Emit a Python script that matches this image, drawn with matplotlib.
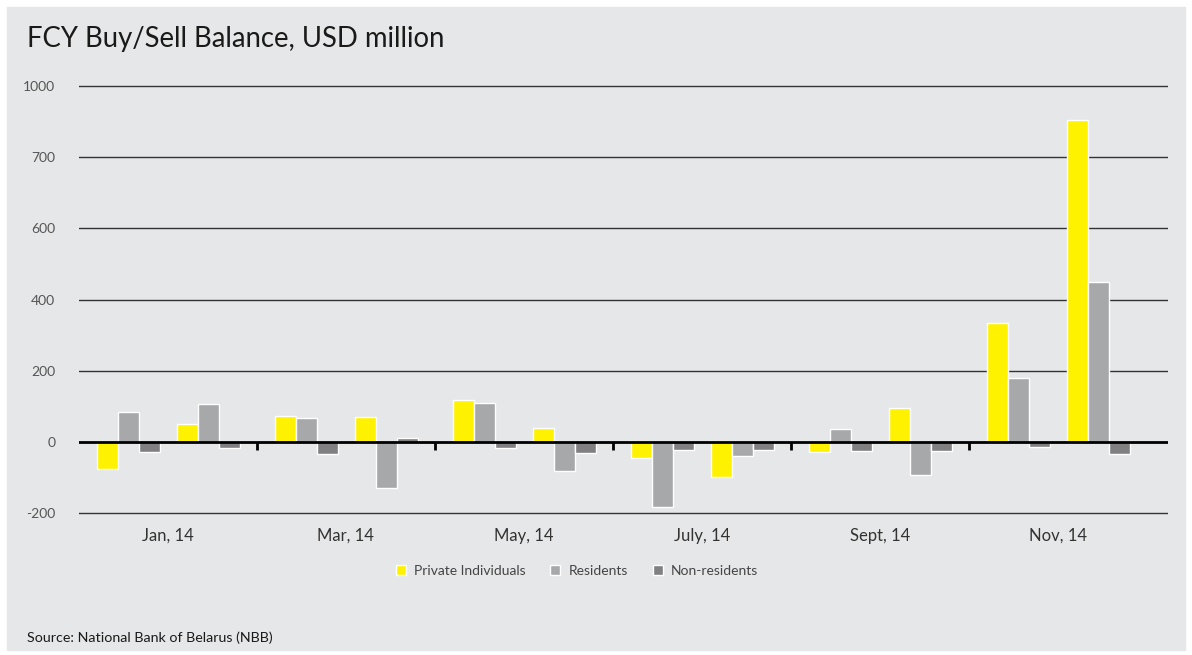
import numpy as np
import matplotlib.pyplot as plt
from matplotlib.patches import Rectangle

# monthly FCY buy/sell balance, USD million (Jan..Dec 2014)
months = ['Jan', 'Feb', 'Mar', 'Apr', 'May', 'Jun',
          'Jul', 'Aug', 'Sep', 'Oct', 'Nov', 'Dec']
private = [-77, 50, 72, 69, 118, 38, -45, -100, -28, 95, 334, 905]
residents = [84, 105, 66, -131, 108, -83, -182, -39, 35, -93, 180, 449]
non_residents = [-28, -16, -33, 10, -17, -32, -22, -22, -25, -25, -14, -35]

pair_labels = ['Jan, 14', 'Mar, 14', 'May, 14', 'July, 14', 'Sept, 14', 'Nov, 14']
ytick_vals = [-200, 0, 200, 400, 600, 800, 1000]
ytick_text = ['-200', '0', '200', '400', '600', '700', '1000']

c_yellow = '#fff200'
c_res = '#a7a8aa'
c_non = '#808083'
bg = '#e6e7e8'

plt.rcParams['font.family'] = ['Lato', 'DejaVu Sans']

fig = plt.figure(figsize=(11.92, 6.55), dpi=100)
fig.patch.set_facecolor('white')
fig.patches.append(Rectangle((7/1192, 1-650/655), 1178/1192, 643/655,
                             transform=fig.transFigure, color=bg, zorder=-10))

ax = fig.add_axes([79/1192, 1-516.6/655, 1089/1192, 434.2/655])
ax.set_facecolor('none')
for s in ax.spines.values():
    s.set_visible(False)

# months come in pairs, each pair spans 2 units
idx = np.arange(12)
centers = 2*(idx//2) + 1 + np.where(idx % 2 == 0, -0.44, 0.46)
w = 0.236
ax.bar(centers - w, private, w, color=c_yellow, edgecolor='white', lw=1, zorder=3, label='Private Individuals')
ax.bar(centers, residents, w, color=c_res, edgecolor='white', lw=1, zorder=3, label='Residents')
ax.bar(centers + w, non_residents, w, color=c_non, edgecolor='white', lw=1, zorder=3, label='Non-residents')

ax.set_xlim(0, 12.24)
ax.set_ylim(-210, 1010)
for v in ytick_vals:
    if v == 0:
        ax.axhline(v, color='black', lw=2, zorder=4)
    else:
        ax.axhline(v, color='#333333', lw=1, zorder=1)
ax.vlines(np.arange(2, 12, 2), -22, 0, color='black', lw=2, zorder=4)

ax.set_yticks(ytick_vals)
ax.set_yticklabels(ytick_text, fontsize=10, color='#555555')
ax.set_xticks(np.arange(1, 12, 2))
ax.set_xticklabels(pair_labels, fontsize=12, color='#333333')
ax.tick_params(axis='y', length=0, pad=17)
ax.tick_params(axis='x', length=0, pad=8)

fig.text(27/1192, 1-39/655, 'FCY Buy/Sell Balance, USD million', fontsize=19.8,
         color='#1a1a1a', va='center')
fig.text(27/1192, 1-638/655, 'Source: National Bank of Belarus (NBB)', fontsize=10.3,
         color='#1a1a1a', va='center')

fig.legend(loc='center', bbox_to_anchor=(577/1192, 1-571/655), ncol=3, frameon=False,
           fontsize=10, handlelength=0.7, handleheight=0.7, columnspacing=1.8,
           handletextpad=0.6, labelcolor='#444444')

fig.savefig('out.png', dpi=100, facecolor=fig.get_facecolor())
